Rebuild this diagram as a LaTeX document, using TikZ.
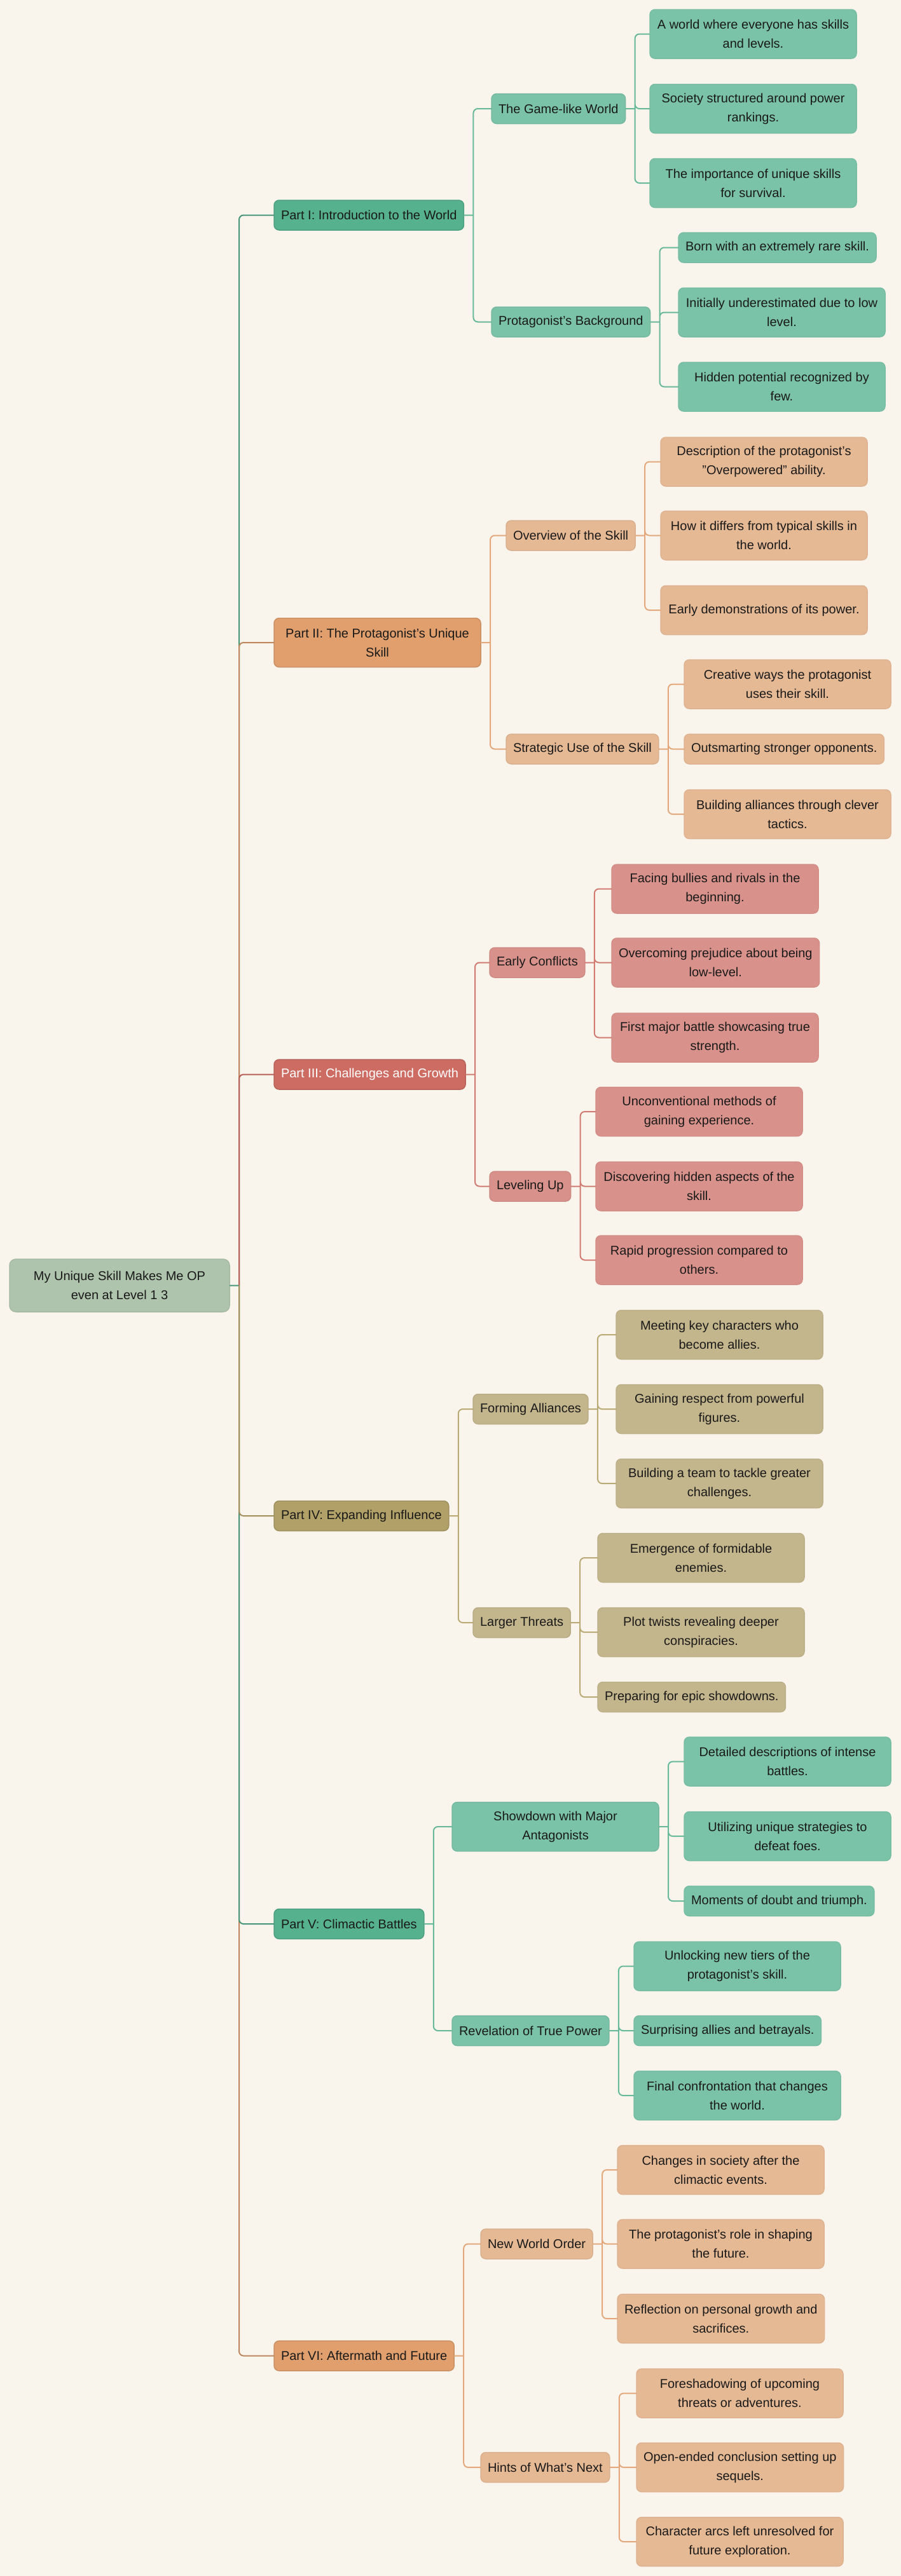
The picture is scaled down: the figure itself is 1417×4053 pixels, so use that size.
\documentclass[tikz,border=0pt]{standalone}
\usepackage{fontspec}
\setmainfont{Liberation Sans}
\definecolor{bgc}{RGB}{249,245,237}
\definecolor{rootc}{RGB}{175,196,172}
\definecolor{grnD}{RGB}{86,177,143}
\definecolor{grnL}{RGB}{123,195,168}
\definecolor{orgD}{RGB}{224,159,109}
\definecolor{orgL}{RGB}{230,185,149}
\definecolor{redD}{RGB}{205,108,99}
\definecolor{redL}{RGB}{217,146,139}
\definecolor{oliD}{RGB}{177,160,103}
\definecolor{oliL}{RGB}{195,181,140}
\tikzset{
  box/.style={rounded corners=4pt, line width=0.75pt, outer sep=0pt, inner xsep=5.5pt, inner ysep=1pt,
    minimum height=23.5pt, align=center, anchor=west, text=black!90, font=\fontsize{10pt}{15pt}\selectfont},
  two/.style={minimum height=38.5pt},
  wide/.style={minimum width=162.5pt},
  rootbox/.style={box, fill=rootc, draw=rootc!95!black, minimum width=173pt, minimum height=41.5pt, rounded corners=5pt},
  part/.style={box, fill=#1, draw=#1!90!black},
  sub/.style={box, fill=#1, draw=#1!95!black},
  item/.style={box, fill=#1, draw=#1!97!black},
  leaf/.style={item=#1, two, wide},
  lk/.style={draw=#1, line width=1pt, rounded corners=3.5pt},
}
\begin{document}
\begin{tikzpicture}[x=0.5pt,y=-0.5pt]
  \useasboundingbox (0,0) rectangle (1417,4053);
  \fill[bgc] (0,0) rectangle (1417,4053);
  % root
  \node[rootbox] (root) at (15,2022.5) {My Unique Skill Makes Me OP\\even at Level 1 3};
  % part I
  \node[part=grnD] (p1) at (431,338.5) {Part I: Introduction to the World};
  \node[sub=grnL] (s11) at (773,171) {The Game-like World};
  \node[leaf=grnL] (l111) at (1022,53.5) {A world where everyone has skills\\and levels.};
  \node[leaf=grnL] (l112) at (1022,171) {Society structured around power\\rankings.};
  \node[leaf=grnL] (l113) at (1022,288) {The importance of unique skills\\for survival.};
  \node[sub=grnL] (s12) at (773,506.5) {Protagonist's Background};
  \node[item=grnL] (l121) at (1067,389.5) {Born with an extremely rare skill.};
  \node[leaf=grnL] (l122) at (1067,491.5) {Initially underestimated due to low\\level.};
  \node[leaf=grnL] (l123) at (1067,608.5) {Hidden potential recognized by\\few.};
  % part II
  \node[part=orgD, two, wide] (p2) at (431,1011) {Part II: The Protagonist's Unique\\Skill};
  \node[sub=orgL] (s21) at (796,842.5) {Overview of the Skill};
  \node[leaf=orgL] (l211) at (1039,726.5) {Description of the protagonist's\\"Overpowered" ability.};
  \node[leaf=orgL] (l212) at (1039,842.5) {How it differs from typical skills in\\the world.};
  \node[leaf=orgL] (l213) at (1039,960) {Early demonstrations of its power.};
  \node[sub=orgL] (s22) at (796,1178.5) {Strategic Use of the Skill};
  \node[leaf=orgL] (l221) at (1076,1076.5) {Creative ways the protagonist\\uses their skill.};
  \node[item=orgL] (l222) at (1076,1178.5) {Outsmarting stronger opponents.};
  \node[leaf=orgL] (l223) at (1076,1281) {Building alliances through clever\\tactics.};
  % part III
  \node[part=redD, text=white] (p3) at (431,1690.5) {Part III: Challenges and Growth};
  \node[sub=redL] (s31) at (770,1514.5) {Early Conflicts};
  \node[leaf=redL] (l311) at (962,1398.5) {Facing bullies and rivals in the\\beginning.};
  \node[leaf=redL] (l312) at (962,1514.5) {Overcoming prejudice about being\\low-level.};
  \node[leaf=redL] (l313) at (962,1632.5) {First major battle showcasing true\\strength.};
  \node[sub=redL] (s32) at (770,1866.5) {Leveling Up};
  \node[leaf=redL] (l321) at (937,1749) {Unconventional methods of\\gaining experience.};
  \node[leaf=redL] (l322) at (937,1866.5) {Discovering hidden aspects of the\\skill.};
  \node[leaf=redL] (l323) at (937,1982.5) {Rapid progression compared to\\others.};
  % part IV
  \node[part=oliD] (p4) at (431,2385) {Part IV: Expanding Influence};
  \node[sub=oliL] (s41) at (744,2217) {Forming Alliances};
  \node[leaf=oliL] (l411) at (969,2100) {Meeting key characters who\\become allies.};
  \node[leaf=oliL] (l412) at (969,2217) {Gaining respect from powerful\\figures.};
  \node[leaf=oliL] (l413) at (969,2334) {Building a team to tackle greater\\challenges.};
  \node[sub=oliL] (s42) at (744,2553) {Larger Threats};
  \node[leaf=oliL] (l421) at (940,2451) {Emergence of formidable\\enemies.};
  \node[leaf=oliL] (l422) at (940,2568) {Plot twists revealing deeper\\conspiracies.};
  \node[item=oliL] (l423) at (940,2670) {Preparing for epic showdowns.};
  % part V
  \node[part=grnD] (p5) at (431,3027) {Part V: Climactic Battles};
  \node[sub=grnL, two, wide] (s51) at (711,2874) {Showdown with Major\\Antagonists};
  \node[leaf=grnL] (l511) at (1076,2771.5) {Detailed descriptions of intense\\battles.};
  \node[leaf=grnL] (l512) at (1076,2889) {Utilizing unique strategies to\\defeat foes.};
  \node[item=grnL] (l513) at (1076,2991) {Moments of doubt and triumph.};
  \node[sub=grnL] (s52) at (711,3195) {Revelation of True Power};
  \node[leaf=grnL] (l521) at (997,3093.5) {Unlocking new tiers of the\\protagonist's skill.};
  \node[item=grnL] (l522) at (997,3195) {Surprising allies and betrayals.};
  \node[leaf=grnL] (l523) at (997,3297) {Final confrontation that changes\\the world.};
  % part VI
  \node[part=orgD] (p6) at (431,3706.5) {Part VI: Aftermath and Future};
  \node[sub=orgL] (s61) at (756,3530.5) {New World Order};
  \node[leaf=orgL] (l611) at (971,3414) {Changes in society after the\\climactic events.};
  \node[leaf=orgL] (l612) at (971,3530.5) {The protagonist's role in shaping\\the future.};
  \node[leaf=orgL] (l613) at (971,3648) {Reflection on personal growth and\\sacrifices.};
  \node[sub=orgL] (s62) at (756,3882) {Hints of What's Next};
  \node[leaf=orgL] (l621) at (1001,3765.5) {Foreshadowing of upcoming\\threats or adventures.};
  \node[leaf=orgL] (l622) at (1001,3882) {Open-ended conclusion setting up\\sequels.};
  \node[leaf=orgL] (l623) at (1001,3999) {Character arcs left unresolved for\\future exploration.};
  % trunk
  \draw[lk=grnD!85!black] (root.east) -- ++(15,0) coordinate (j0) (j0) |- (p1.west);
  \draw[lk=orgD!85!black] (j0) |- (p2.west);
  \draw[lk=redD!90!black] (j0) |- (p3.west);
  \draw[lk=orgD!85!black] (j0) |- (p6.west);
  \draw[lk=grnD!85!black] (j0) |- (p5.west);
  \draw[lk=oliD!90!black] (j0) |- (p4.west);
  % branches
  \draw[lk=grnD!90] (p1.east) -- ++(15,0) coordinate (j1) (j1) |- (s11.west) (j1) |- (s12.west);
  \draw[lk=grnD!90] (s11.east) -- ++(15,0) coordinate (j11) (j11) |- (l111.west) (j11) |- (l112.west) (j11) |- (l113.west);
  \draw[lk=grnD!90] (s12.east) -- ++(15,0) coordinate (j12) (j12) |- (l121.west) (j12) |- (l122.west) (j12) |- (l123.west);
  \draw[lk=orgD!90] (p2.east) -- ++(15,0) coordinate (j2) (j2) |- (s21.west) (j2) |- (s22.west);
  \draw[lk=orgD!90] (s21.east) -- ++(15,0) coordinate (j21) (j21) |- (l211.west) (j21) |- (l212.west) (j21) |- (l213.west);
  \draw[lk=orgD!90] (s22.east) -- ++(15,0) coordinate (j22) (j22) |- (l221.west) (j22) |- (l222.west) (j22) |- (l223.west);
  \draw[lk=redD!90] (p3.east) -- ++(15,0) coordinate (j3) (j3) |- (s31.west) (j3) |- (s32.west);
  \draw[lk=redD!90] (s31.east) -- ++(15,0) coordinate (j31) (j31) |- (l311.west) (j31) |- (l312.west) (j31) |- (l313.west);
  \draw[lk=redD!90] (s32.east) -- ++(15,0) coordinate (j32) (j32) |- (l321.west) (j32) |- (l322.west) (j32) |- (l323.west);
  \draw[lk=oliD!90] (p4.east) -- ++(15,0) coordinate (j4) (j4) |- (s41.west) (j4) |- (s42.west);
  \draw[lk=oliD!90] (s41.east) -- ++(15,0) coordinate (j41) (j41) |- (l411.west) (j41) |- (l412.west) (j41) |- (l413.west);
  \draw[lk=oliD!90] (s42.east) -- ++(15,0) coordinate (j42) (j42) |- (l421.west) (j42) |- (l422.west) (j42) |- (l423.west);
  \draw[lk=grnD!90] (p5.east) -- ++(15,0) coordinate (j5) (j5) |- (s51.west) (j5) |- (s52.west);
  \draw[lk=grnD!90] (s51.east) -- ++(15,0) coordinate (j51) (j51) |- (l511.west) (j51) |- (l512.west) (j51) |- (l513.west);
  \draw[lk=grnD!90] (s52.east) -- ++(15,0) coordinate (j52) (j52) |- (l521.west) (j52) |- (l522.west) (j52) |- (l523.west);
  \draw[lk=orgD!90] (p6.east) -- ++(15,0) coordinate (j6) (j6) |- (s61.west) (j6) |- (s62.west);
  \draw[lk=orgD!90] (s61.east) -- ++(15,0) coordinate (j61) (j61) |- (l611.west) (j61) |- (l612.west) (j61) |- (l613.west);
  \draw[lk=orgD!90] (s62.east) -- ++(15,0) coordinate (j62) (j62) |- (l621.west) (j62) |- (l622.west) (j62) |- (l623.west);
\end{tikzpicture}
\end{document}
